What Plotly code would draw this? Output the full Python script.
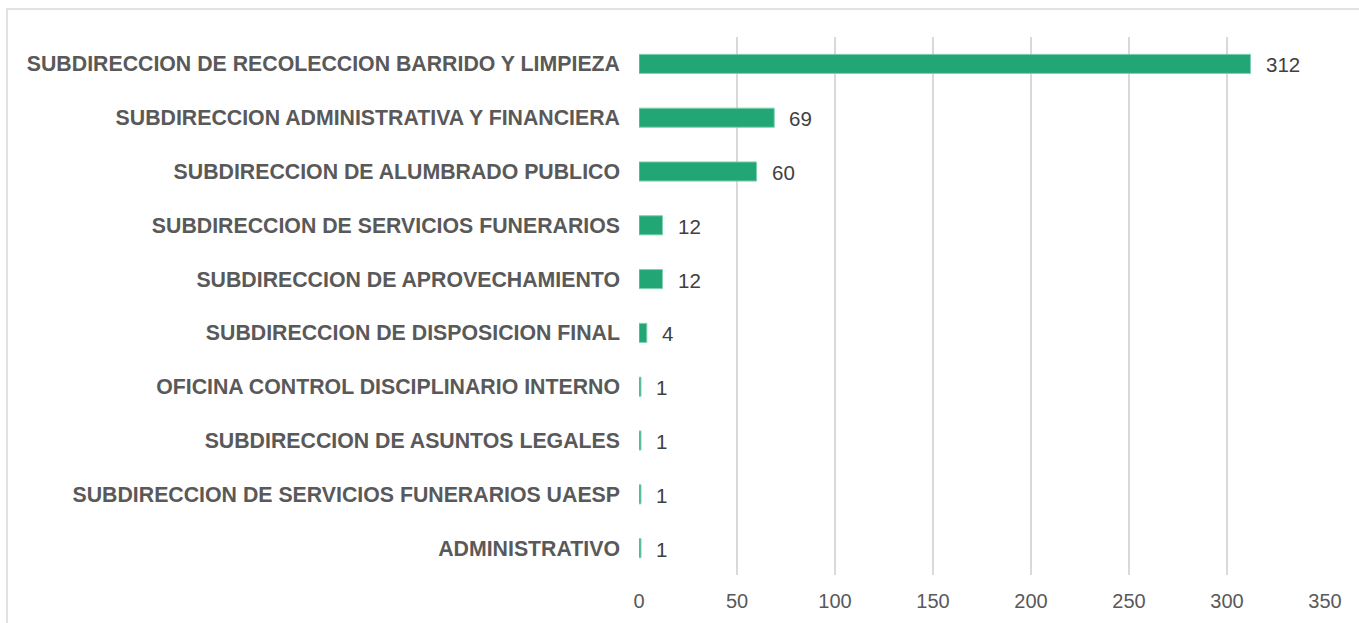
import plotly.graph_objects as go

categories = [
    "SUBDIRECCION DE RECOLECCION BARRIDO Y LIMPIEZA",
    "SUBDIRECCION ADMINISTRATIVA Y FINANCIERA",
    "SUBDIRECCION DE ALUMBRADO PUBLICO",
    "SUBDIRECCION DE SERVICIOS FUNERARIOS",
    "SUBDIRECCION DE APROVECHAMIENTO",
    "SUBDIRECCION DE DISPOSICION FINAL",
    "OFICINA CONTROL DISCIPLINARIO INTERNO",
    "SUBDIRECCION DE ASUNTOS LEGALES",
    "SUBDIRECCION DE SERVICIOS FUNERARIOS UAESP",
    "ADMINISTRATIVO",
]
values = [312, 69, 60, 12, 12, 4, 1, 1, 1, 1]
tick_vals = [0, 50, 100, 150, 200, 250, 300, 350]

FONT = "Liberation Sans, Arial, sans-serif"
ML, MR, MT, MB = 639, 34, 37, 48
W, H = 1359, 623
PW, PH = W - ML - MR, H - MT - MB

fig = go.Figure()
fig.add_trace(go.Bar(
    x=values, y=categories, orientation="h",
    marker=dict(color="#22A676", line=dict(color="#7FD1B0", width=1)),
    hoverinfo="x+y",
))

for c, v in zip(categories, values):
    fig.add_annotation(x=v, y=c, text=str(v), showarrow=False,
                       xanchor="left", xshift=13, yshift=-1,
                       font=dict(family=FONT, size=20.5, color="#404040"))

fig.update_layout(
    width=W, height=H,
    margin=dict(l=ML, r=MR, t=MT, b=MB),
    paper_bgcolor="white", plot_bgcolor="white",
    bargap=0.645,
    showlegend=False,
    font=dict(family=FONT, size=20, color="#595959"),
    xaxis=dict(range=[0, 350], tickvals=tick_vals, showgrid=True,
               gridcolor="#D9D9D9", gridwidth=1.5, zeroline=False,
               showline=False, ticks="", ticklabelstandoff=12,
               tickfont=dict(family=FONT, size=20, color="#595959")),
    yaxis=dict(categoryorder="array", categoryarray=categories[::-1],
               showgrid=False, zeroline=False, showline=False, ticks="",
               ticklabelstandoff=18,
               tickfont=dict(size=21.3, color="#595959", family=FONT, weight="bold")),
    shapes=[dict(type="rect", xref="paper", yref="paper",
                 x0=(7 - ML) / PW, x1=1.2, y0=-0.5, y1=1 + (MT - 9) / PH,
                 line=dict(color="#D9D9D9", width=1.5), layer="below")],
)

fig.write_html("out.html", config={"displayModeBar": False},
               post_script="document.body.style.margin='0';document.body.style.overflow='hidden';")
